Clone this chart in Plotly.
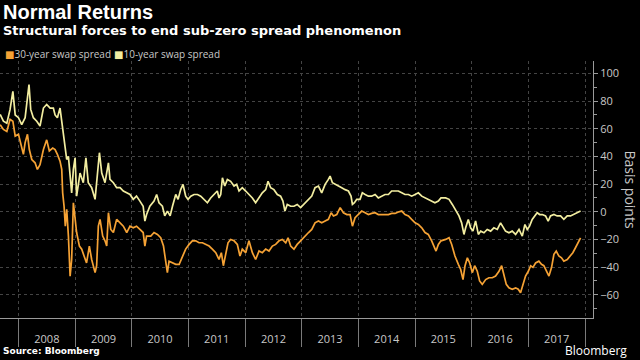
import plotly.graph_objects as go

# ---- 10-year swap spread (basis points) ----
dates_10y = [
    "2007-09-05", "2007-09-26", "2007-10-18", "2007-11-08", "2007-11-26", "2007-12-11",
    "2008-01-01", "2008-01-22", "2008-02-13", "2008-02-23", "2008-03-09", "2008-03-20",
    "2008-04-06", "2008-04-28", "2008-05-19", "2008-06-10", "2008-07-01", "2008-07-23",
    "2008-08-13", "2008-08-24", "2008-09-08", "2008-09-25", "2008-10-06", "2008-10-17",
    "2008-10-27", "2008-11-07", "2008-11-18", "2008-11-29", "2008-12-09", "2008-12-20",
    "2008-12-31", "2009-01-10", "2009-02-01", "2009-02-22", "2009-03-11", "2009-03-26",
    "2009-04-17", "2009-05-09", "2009-05-24", "2009-06-06", "2009-06-21", "2009-07-12",
    "2009-08-03", "2009-08-13", "2009-09-04", "2009-09-25", "2009-10-17", "2009-11-07",
    "2009-11-29", "2009-12-20", "2010-01-10", "2010-01-31", "2010-02-22", "2010-03-15",
    "2010-03-26", "2010-04-06", "2010-04-27",
    "2010-05-24", "2010-06-10", "2010-06-25", "2010-07-17", "2010-08-01", "2010-08-18",
    "2010-09-05", "2010-09-20", "2010-10-11", "2010-10-26", "2010-11-12", "2010-11-27",
    "2010-12-14", "2010-12-29", "2011-01-16", "2011-02-06", "2011-02-28", "2011-03-21",
    "2011-04-12", "2011-05-03", "2011-05-24", "2011-06-15", "2011-07-06", "2011-07-17",
    "2011-07-28", "2011-08-08", "2011-08-23", "2011-09-09", "2011-09-30", "2011-10-22",
    "2011-11-08", "2011-11-23", "2011-12-14", "2012-01-05", "2012-01-26", "2012-02-17",
    "2012-03-09", "2012-03-31", "2012-04-21", "2012-05-13", "2012-05-28", "2012-06-14",
    "2012-07-05", "2012-07-27", "2012-08-17", "2012-09-01", "2012-09-14", "2012-09-29",
    "2012-10-21", "2012-11-11", "2012-12-02", "2012-12-24",
    "2013-01-01", "2013-01-22", "2013-02-13", "2013-03-06", "2013-03-27", "2013-04-18",
    "2013-05-09", "2013-05-31", "2013-06-21", "2013-07-02", "2013-07-17", "2013-08-03",
    "2013-08-25", "2013-09-15", "2013-10-07", "2013-10-28", "2013-11-14", "2013-11-23",
    "2013-12-06", "2013-12-21", "2014-01-11", "2014-01-26", "2014-02-13", "2014-03-06",
    "2014-03-27", "2014-04-18", "2014-05-09", "2014-05-31", "2014-06-21", "2014-07-13",
    "2014-08-03", "2014-08-25", "2014-09-15", "2014-10-07", "2014-10-28", "2014-11-19",
    "2014-12-10", "2015-01-01", "2015-01-22", "2015-02-13", "2015-03-06", "2015-03-27",
    "2015-04-18", "2015-05-09", "2015-05-31", "2015-06-17",
    "2015-07-17", "2015-08-08", "2015-08-29", "2015-09-20", "2015-10-11", "2015-10-28",
    "2015-11-12", "2015-11-23", "2015-12-10", "2015-12-25", "2016-01-09", "2016-01-26",
    "2016-02-13", "2016-02-28", "2016-03-20", "2016-04-10", "2016-05-02", "2016-05-23",
    "2016-06-14", "2016-07-05", "2016-07-20", "2016-08-06", "2016-08-28", "2016-09-18",
    "2016-10-10", "2016-11-01", "2016-11-22", "2016-12-09", "2016-12-24", "2017-01-08",
    "2017-01-25", "2017-02-11", "2017-02-26", "2017-03-14", "2017-03-31", "2017-04-21",
    "2017-05-08", "2017-05-23", "2017-06-14", "2017-07-05", "2017-07-27", "2017-08-17",
    "2017-09-08", "2017-09-29", "2017-10-21", "2017-11-11", "2017-12-03",
]
values_10y = [
    70.4, 65.5, 64, 74, 87, 70,
    68, 63, 68, 79, 92, 74,
    68, 65.5, 62, 75, 77.6, 75,
    75, 70, 68, 75, 65.5, 57,
    47.5, 37.8, 40, 23.4, 13.7, 30.6,
    39, 11.3, 28, 21, 39, 21,
    17.4, 9, 30.6, 42.7, 28, 21,
    35.4, 23.4, 21, 17.4, 17.4, 15,
    13.7, 12.5, 9, 11.3, 7.7, 4,
    -6.7, -2, 4,
    7.7, 12.5, 6.5, 4, -3, 0.5,
    -3, 4, 12.5, 9, 16, 19.8,
    11.3, 9, 11.3, 12.5, 12.5, 11.3,
    9, 6.5, 10, 12.5, 15, 10,
    12.5, 24.6, 18.6, 23.4, 22, 18.6,
    19.8, 15, 17.4, 15, 12.5, 10,
    6.5, 10, 13.7, 16, 22, 17.4,
    16, 12.5, 11.3, 7.7, 0.5, 5.3,
    4, 4, 5.3, 3,
    4, 6.5, 9, 11.3, 17.4, 18.6,
    13.7, 19.8, 23.4, 25.8, 21, 19.8,
    18.6, 17.4, 16, 15, 11.3, 5.3,
    6.5, 9, 9, 13.7, 12.5, 11.3,
    11.3, 12.5, 10, 11.3, 12.5, 12.5,
    15, 15, 15, 13.7, 12.5, 12.5,
    11.3, 12.5, 13.7, 11.3, 10, 9,
    7.7, 6.5, 7.7, 10,
    10, 9, 5.3, 0.5, -3, -8,
    -16.4, -11.6, -5.5, -11.6, -14, -6.7,
    -16.4, -14, -15.2, -12.8, -14, -11.6,
    -12.8, -8, -10.4, -14, -15.2, -14,
    -16.4, -12.8, -17.6, -9.2, -12.8, -10.4,
    -5.5, -3, -0.7, -2, -2, -3,
    -6.7, -3, -2, -3, -3, -5.5,
    -3, -3, -2, -0.7, 0.5,
]

# ---- 30-year swap spread (basis points) ----
dates_30y = [
    "2007-09-05", "2007-09-26", "2007-10-18", "2007-11-08", "2007-11-26", "2007-12-11",
    "2008-01-01", "2008-01-22", "2008-02-02", "2008-02-13", "2008-02-28", "2008-03-11",
    "2008-03-27", "2008-04-17", "2008-05-02", "2008-05-19", "2008-06-10", "2008-07-01",
    "2008-07-18", "2008-08-09", "2008-08-24", "2008-09-08", "2008-09-25", "2008-10-06",
    "2008-10-12", "2008-10-21", "2008-10-29", "2008-11-07", "2008-11-18", "2008-11-29",
    "2008-12-09", "2008-12-20", "2008-12-31", "2009-01-10", "2009-01-28", "2009-02-12",
    "2009-02-27", "2009-03-15", "2009-04-02", "2009-04-17", "2009-05-09", "2009-05-19",
    "2009-05-30", "2009-06-10", "2009-06-27", "2009-07-12", "2009-07-23", "2009-08-03",
    "2009-08-18", "2009-09-04", "2009-09-25", "2009-10-17", "2009-11-07", "2009-11-29",
    "2009-12-20", "2010-01-10", "2010-01-31", "2010-02-22", "2010-03-15", "2010-03-26",
    "2010-04-06",
    "2010-05-03", "2010-05-24", "2010-06-15", "2010-07-06", "2010-07-24", "2010-08-08",
    "2010-08-18", "2010-08-29", "2010-09-20", "2010-10-11", "2010-11-02", "2010-11-23",
    "2010-12-14", "2011-01-05", "2011-01-26", "2011-02-17", "2011-03-10", "2011-04-01",
    "2011-04-22", "2011-05-14", "2011-06-04", "2011-06-26", "2011-07-17", "2011-08-01",
    "2011-08-14", "2011-08-29", "2011-09-13", "2011-09-30", "2011-10-22", "2011-11-12",
    "2011-11-29", "2011-12-14", "2012-01-05", "2012-01-26", "2012-02-17", "2012-03-09",
    "2012-03-31", "2012-04-21", "2012-05-13", "2012-06-03", "2012-06-25", "2012-07-16",
    "2012-08-07", "2012-08-28", "2012-09-19", "2012-10-04", "2012-10-21", "2012-11-11",
    "2012-12-02", "2012-12-24",
    "2013-01-01", "2013-01-22", "2013-02-13", "2013-03-06", "2013-03-27", "2013-04-18",
    "2013-05-09", "2013-05-31", "2013-06-21", "2013-07-09", "2013-07-24", "2013-08-14",
    "2013-09-05", "2013-09-26", "2013-10-18", "2013-11-08", "2013-11-23", "2013-12-10",
    "2014-01-01", "2014-01-22", "2014-02-13", "2014-03-06", "2014-03-27", "2014-04-18",
    "2014-05-09", "2014-05-31", "2014-06-21", "2014-07-13", "2014-08-03", "2014-08-25",
    "2014-09-15", "2014-10-07", "2014-10-28", "2014-11-19", "2014-12-10", "2015-01-01",
    "2015-01-22", "2015-02-13", "2015-03-06", "2015-03-27", "2015-04-18", "2015-05-05",
    "2015-05-16", "2015-05-31", "2015-06-17",
    "2015-07-17", "2015-08-08", "2015-08-25", "2015-09-15", "2015-10-07", "2015-10-22",
    "2015-11-06", "2015-11-19", "2015-12-04", "2015-12-19", "2016-01-05", "2016-01-20",
    "2016-02-06", "2016-02-21", "2016-03-09", "2016-03-31", "2016-04-21", "2016-05-13",
    "2016-06-03", "2016-06-25", "2016-07-12", "2016-07-27", "2016-08-11", "2016-08-28",
    "2016-09-18", "2016-10-10", "2016-10-27", "2016-11-11", "2016-11-26", "2016-12-13",
    "2016-12-31", "2017-01-15", "2017-01-30", "2017-02-16", "2017-03-09", "2017-03-26",
    "2017-04-10", "2017-04-26", "2017-05-13", "2017-05-30", "2017-06-14", "2017-06-29",
    "2017-07-16", "2017-08-02", "2017-08-17", "2017-09-08", "2017-09-29", "2017-10-14",
    "2017-10-31", "2017-11-17", "2017-12-03",
]
values_30y = [
    63, 59.5, 58, 66.8, 65.5, 54.7,
    56, 47.5, 41.5, 50, 56, 45,
    37.8, 35.4, 30.6, 34, 45, 52,
    44, 46, 45, 41.5, 36.6, 30.6,
    13.7, 4, -10.4, 1.7, -17.6, -46.5,
    -34.5, 6.5, -3, -15, -24.8, -27,
    -32, -37, -24.8, -34.5, -44, -39,
    -10.4, -5.5, -17.6, -21, -24.8, -0.7,
    -12.8, -15, -5.5, -8, -10.4, -15,
    -10.4, -11.6, -10.4, -12.8, -15, -24.8,
    -17.6,
    -17.6, -15, -16.4, -18.8, -24.8, -34.5,
    -44, -35.7, -37, -38, -38, -32,
    -27, -23.6, -21, -21, -22.4, -22.4,
    -23.6, -24.8, -27, -29.6, -34.5, -29.6,
    -39, -29.6, -22.4, -20, -21, -23.6,
    -32, -27, -29.6, -21, -29.6, -34.5,
    -28.4, -29.6, -27, -28.4, -24.8, -23.6,
    -21, -20, -22.4, -18.8, -24.8, -27,
    -23.6, -21,
    -20, -17.6, -15, -12.8, -8, -6.7,
    -8, -6.7, -5.5, -0.7, -3, -2,
    3, -0.7, -2, -2, -10.4, -4.3,
    -2, 0.5, -0.7, -2, -1.2, -0.7,
    -2, -2, -2, -2, -1.2, -1.2,
    -0.2, 0.5, -2, -3, -5.5, -8,
    -9.2, -11.6, -15, -16.4, -21, -24.8,
    -28.4, -23.6, -21,
    -20, -18.8, -23.6, -32, -38, -41.7,
    -49, -39, -33.3, -37, -44, -39,
    -43, -50, -52.5, -49, -47.7, -47.7,
    -46.5, -43, -39, -45, -52.5, -55,
    -56, -55, -56, -58.6, -53.7, -46.5,
    -43, -39, -40.2, -37, -35.7, -38,
    -39, -43, -46.5, -40.2, -30.8, -28.4,
    -32, -33.3, -35.7, -34.5, -32, -29.6,
    -26, -22.4, -18.8,
]

year_starts = [f"{y}-01-01" for y in range(2008, 2019)]
year_mids = [f"{y}-07-02" for y in range(2008, 2018)]
year_labels = [str(y) for y in range(2008, 2018)]
y_ticks = [100, 80, 60, 40, 20, 0, -20, -40, -60]

ORANGE = "#f5a235"
YELLOW = "#f2eda0"
TXT = "#c8c8c8"
GRID = "#444444"
FONT = "Open Sans, DejaVu Sans, sans-serif"
BOLD_FONT = "DejaVu Sans, sans-serif"

fig = go.Figure()
fig.add_trace(go.Scatter(x=dates_10y, y=values_10y, mode="lines",
                         line=dict(color=YELLOW, width=1.7), name="10-year swap spread",
                         showlegend=False))
fig.add_trace(go.Scatter(x=dates_30y, y=values_30y, mode="lines",
                         line=dict(color=ORANGE, width=1.7), name="30-year swap spread",
                         showlegend=False))

fig.update_layout(
    width=640, height=360,
    margin=dict(l=0, r=47, t=61, b=42, autoexpand=False),
    paper_bgcolor="black", plot_bgcolor="black",
    font=dict(family=FONT, color=TXT, size=11),
    xaxis=dict(
        type="date", automargin=False,
        range=["2007-09-04", "2018-02-21"],
        tickmode="array", tickvals=year_mids, ticktext=year_labels,
        ticks="outside", ticklen=11, tickcolor="rgba(0,0,0,0)",
        tickfont=dict(size=11, color=TXT),
        showgrid=False, zeroline=False,
        showline=True, linecolor="#9a9a9a", linewidth=1,
        minor=dict(tickmode="array", tickvals=year_starts, ticks="outside",
                   ticklen=28, tickcolor="#7a7a7a", tickwidth=1,
                   showgrid=True, gridcolor=GRID, griddash="dot", gridwidth=1),
    ),
    yaxis=dict(
        side="right", automargin=False,
        range=[-76.8, 109],
        tickmode="array", tickvals=y_ticks,
        ticks="outside", ticklen=4, tickcolor="#9a9a9a",
        tickfont=dict(size=11, color=TXT),
        showgrid=True, gridcolor=GRID, griddash="dot", gridwidth=1,
        zeroline=False,
        showline=True, linecolor="#9a9a9a", linewidth=1,
        minor=dict(dtick=10, tick0=0, ticks="outside", ticklen=3,
                   tickcolor="#9a9a9a", showgrid=False),
    ),
    showlegend=False,
)

fig.add_annotation(text="<b>Normal Returns</b>", xref="paper", yref="paper",
                   x=0, y=1.19, xanchor="left", yanchor="middle", xshift=1,
                   showarrow=False,
                   font=dict(family="Liberation Sans, Arial, sans-serif", size=20, color="white"))
fig.add_annotation(text="<b>Structural forces to end sub-zero spread phenomenon</b>",
                   xref="paper", yref="paper", x=0, y=1.12, xanchor="left",
                   yanchor="middle", xshift=1, showarrow=False,
                   font=dict(family=BOLD_FONT, size=13, color="white"))
fig.add_annotation(text=f"<span style='color:{ORANGE}'>■</span>30-year swap spread",
                   xref="paper", yref="paper", x=0, y=1.027, xanchor="left",
                   yanchor="middle", xshift=3, showarrow=False,
                   font=dict(family=FONT, size=10, color=TXT))
fig.add_annotation(text=f"<span style='color:{YELLOW}'>■</span>10-year swap spread",
                   xref="paper", yref="paper", x=0, y=1.027, xanchor="left",
                   yanchor="middle", xshift=112, showarrow=False,
                   font=dict(family=FONT, size=10, color=TXT))
fig.add_annotation(text="Basis points", xref="paper", yref="paper",
                   x=1, y=0.5, xanchor="center", yanchor="middle", xshift=37,
                   textangle=90, showarrow=False,
                   font=dict(family=FONT, size=14, color=TXT))
fig.add_annotation(text="<b>Source: Bloomberg</b>", xref="paper", yref="paper",
                   x=0, y=-0.13, xanchor="left", yanchor="middle", xshift=1,
                   showarrow=False, font=dict(family=BOLD_FONT, size=9, color="white"))
fig.add_annotation(text="Bloomberg", xref="paper", yref="paper",
                   x=1, y=-0.127, xanchor="right", yanchor="middle", xshift=36,
                   showarrow=False, font=dict(family=FONT, size=12, color="white"))

fig.write_html(
    "out.html",
    config={"displayModeBar": False},
    post_script="document.body.style.margin='0';document.body.style.padding='0';"
                "document.body.style.overflow='hidden';document.body.style.background='black';",
)
